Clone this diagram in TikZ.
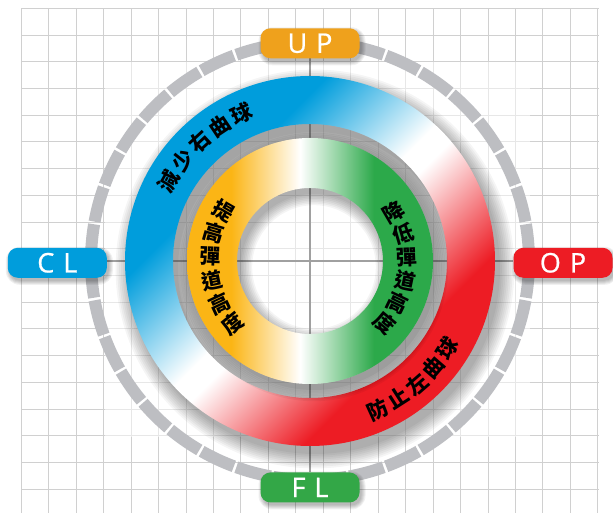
\documentclass[tikz,border=0pt]{standalone}
\usepackage{fontspec}
\newfontfamily\cjk{Noto Sans CJK TC}
\newfontfamily\labfont[FakeBold=0.8]{Open Sans}
\usetikzlibrary{calc}
\definecolor{rblue}{HTML}{009DDC}
\definecolor{rred}{HTML}{ED1C24}
\definecolor{ryel}{HTML}{FBB515}
\definecolor{rgreen}{HTML}{2CA94A}
\definecolor{lorange}{HTML}{EFA11C}
\definecolor{lgreen}{HTML}{33A747}
\definecolor{ringgray}{HTML}{BDBEC2}
\definecolor{gridcol}{HTML}{D0D0D0}
\definecolor{axiscol}{HTML}{A0A0A0}
\pgfdeclarehorizontalshading{bigringsh}{100bp}{color(0bp)=(rblue); color(34bp)=(rblue); color(49bp)=(white); color(52bp)=(white); color(67bp)=(rred); color(100bp)=(rred)}
\pgfdeclarehorizontalshading{smallringsh}{100bp}{color(0bp)=(ryel); color(34bp)=(ryel); color(48bp)=(white); color(63bp)=(rgreen); color(100bp)=(rgreen)}
\newcommand\labshadow[1]{%
  \foreach \s in {0,1,2,3,4}{%
    \fill[black,opacity=0.06,rounded corners={10pt+\s pt}]
      ($(#1)+({-49.5-\s+2},{-15-\s-3})$) rectangle ($(#1)+({49.5+\s+2},{15+\s-3})$);}}
\begin{document}
\begin{tikzpicture}[x=1pt,y=1pt,
  gridline/.style={draw=gridcol,line width=0.9pt},
  axisline/.style={draw=axiscol,line width=1.2pt},
  dashring/.style={draw=ringgray,line width=12pt},
  lbl/.style={rounded corners=10pt,minimum width=99pt,minimum height=30pt,inner sep=0pt,
    text=white,font=\labfont\fontsize{27}{27}\selectfont},
  cjktext/.style={inner sep=0pt,font=\cjk\bfseries\fontsize{21}{21}\selectfont,text=black},
  cjksmall/.style={inner sep=0pt,font=\cjk\bfseries\fontsize{21}{21}\selectfont,text=black}]
\useasboundingbox (0,0) rectangle (613,513);
\fill[white] (0,0) rectangle (613,513);
\coordinate (C) at (310,252);
% grid
\foreach \k in {0,...,21}
  \draw[gridline] ({21.3+27.45*\k},0) -- ({21.3+27.45*\k},504.7);
\foreach \k in {0,...,18}
  \draw[gridline] (21.3,{504.7-26.72*\k}) -- (598.8,{504.7-26.72*\k});
\fill[white,opacity=0.5] (105,76) rectangle (530,451);
% axes
\coordinate (axT) at (310,455);
\coordinate (axB) at (310,41);
\coordinate (axL) at (107,252);
\coordinate (axR) at (513,252);
\draw[axisline] (axT) -- (axB);
\draw[axisline] (axL) -- (axR);
% dashed outer ring
\foreach \k in {0,...,35}
  \draw[dashring] ($(C)+({10*\k+0.35}:219)$) arc ({10*\k+0.35}:{10*\k+9.65}:219);
% big ring shadow
\coordinate (Cs) at ($(C)+(5,-8)$);
\foreach \s in {0,...,8}
  \fill[black,opacity=0.04,even odd rule] (Cs) circle ({185+\s*1.8}) (Cs) circle ({137-\s*1.8});
\fill[gray,opacity=0.2,even odd rule] (C) circle (137) (C) circle (123);
% big ring
\begin{scope}[transform canvas={rotate around={-45:(C)}}]
  \shade[shading=bigringsh,even odd rule] (C) circle (185) (C) circle (137);
\end{scope}
% inner ring shadow
\coordinate (Ci) at ($(C)+(4,-6)$);
\foreach \s in {0,...,7}
  \fill[black,opacity=0.045,even odd rule] (Ci) circle ({123+\s*1.6}) (Ci) circle ({73-\s*1.6});
\shade[shading=smallringsh,even odd rule] (C) circle (123) (C) circle (73);
% ring texts
\foreach \ch [count=\i from 0] in {減,少,右,曲,球}{
  \pgfmathsetmacro\ang{150.5-\i*8.9}
  \node[cjktext,rotate=\ang-90] (b\i) at ($(C)+(\ang:162)$) {\ch};}
\foreach \ch [count=\i from 0] in {防,止,左,曲,球}{
  \pgfmathsetmacro\ang{-65.6+\i*8.3}
  \node[cjktext,rotate=\ang+90] (r\i) at ($(C)+(\ang:163)$) {\ch};}
\foreach \ch [count=\i from 0] in {提,高,彈,道,高,度}{
  \pgfmathsetmacro\ang{150+\i*13.8}
  \node[cjksmall,rotate=\ang-180] (y\i) at ($(C)+(\ang:100)$) {\ch};}
\foreach \ch [count=\i from 0] in {降,低,彈,道,高,度}{
  \pgfmathsetmacro\ang{30.3-\i*14}
  \node[cjksmall,rotate=\ang] (g\i) at ($(C)+(\ang:97)$) {\ch};}
% labels
\coordinate (pUP) at (310,469.7);
\coordinate (pCL) at (57.3,250.2);
\coordinate (pOP) at (563,250.2);
\coordinate (pFL) at (310,25.5);
\labshadow{pUP}\labshadow{pCL}\labshadow{pOP}\labshadow{pFL}
\node[lbl,fill=lorange] (up) at (pUP) {U\kern9pt P};
\node[lbl,fill=rblue] (cl) at (pCL) {C\kern9pt L};
\node[lbl,fill=rred] (op) at (pOP) {O\kern9pt P};
\node[lbl,fill=lgreen] (fl) at (pFL) {F\kern9pt L};
\end{tikzpicture}
\end{document}
